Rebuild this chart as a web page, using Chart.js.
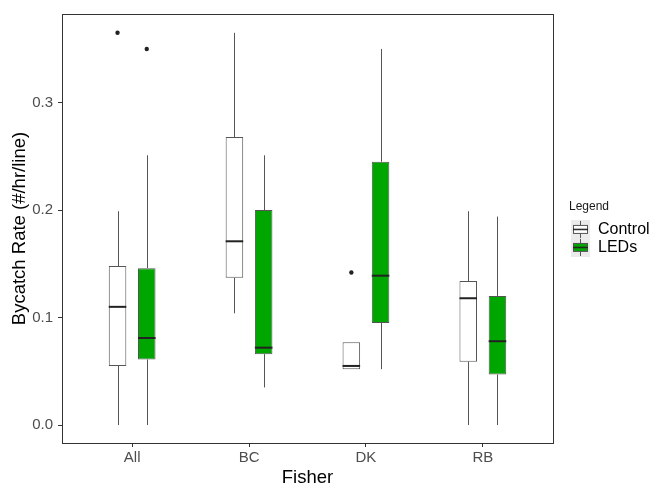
<!DOCTYPE html>
<html>
<head>
<meta charset="utf-8">
<script src="https://cdn.jsdelivr.net/npm/chart.js@4"></script>
<style>
  body { margin: 0; background: #fff; }
  #wrap { width: 651px; height: 487px; }
</style>
</head>
<body>
<div id="wrap"><canvas id="boxChart" width="651" height="487"></canvas></div>
<script>
// ---------- DATA ----------
var categories = ["All", "BC", "DK", "RB"];
var xTicks = [1, 2, 3, 4];
var yTicks = [0, 0.1, 0.2, 0.3];

var controlMin     = [0.000, 0.104, 0.052, 0.000];
var controlQ1      = [0.055, 0.137, 0.052, 0.059];
var controlMedian  = [0.110, 0.171, 0.055, 0.118];
var controlQ3      = [0.148, 0.268, 0.077, 0.134];
var controlMax     = [0.199, 0.365, 0.077, 0.199];
var controlOutliers = [[0.365], [], [0.142], []];

var ledMin     = [0.000, 0.035, 0.052, 0.000];
var ledQ1      = [0.061, 0.066, 0.095, 0.047];
var ledMedian  = [0.081, 0.072, 0.139, 0.078];
var ledQ3      = [0.146, 0.200, 0.245, 0.120];
var ledMax     = [0.251, 0.251, 0.350, 0.194];
var ledOutliers = [[0.350], [], [], []];

var FONT = "'Liberation Sans', Arial, sans-serif";
var GREEN = "#00a600";
var LINE = "#555555";

function boxData(q1, q3) {
  return xTicks.map(function(x, i) { return { x: x, y: [q1[i], q3[i]] }; });
}

// small boxplot glyph for the legend keys
function legendKey(fill) {
  var c = document.createElement("canvas");
  c.width = 19; c.height = 19;
  var g = c.getContext("2d");
  g.fillStyle = "#ebebeb";
  g.fillRect(0, 0, 19, 19);
  g.strokeStyle = LINE;
  g.lineWidth = 1;
  g.beginPath();
  g.moveTo(9.5, 1); g.lineTo(9.5, 5);
  g.moveTo(9.5, 14); g.lineTo(9.5, 18);
  g.stroke();
  g.fillStyle = fill;
  g.fillRect(2, 5, 15, 9);
  g.strokeRect(2.5, 5.5, 14, 8);
  g.strokeStyle = "#222";
  g.lineWidth = 1.5;
  g.beginPath();
  g.moveTo(2, 9.5); g.lineTo(17, 9.5);
  g.stroke();
  return c;
}

var whiskers = [
  { min: controlMin, median: controlMedian, max: controlMax, q1: controlQ1, q3: controlQ3, out: controlOutliers },
  { min: ledMin, median: ledMedian, max: ledMax, q1: ledQ1, q3: ledQ3, out: ledOutliers }
];

// whiskers, medians, outliers and the panel border
var boxPlugin = {
  id: "boxExtras",
  afterDatasetsDraw: function(chart) {
    var ctx = chart.ctx;
    var y = chart.scales.y;
    ctx.save();
    whiskers.forEach(function(w, d) {
      var meta = chart.getDatasetMeta(d);
      meta.data.forEach(function(bar, i) {
        var x = Math.round(bar.x) + 0.5;
        var half = bar.width / 2;
        ctx.strokeStyle = LINE;
        ctx.lineWidth = 1;
        ctx.beginPath();
        if (w.max[i] > w.q3[i]) {
          ctx.moveTo(x, y.getPixelForValue(w.max[i]));
          ctx.lineTo(x, y.getPixelForValue(w.q3[i]));
        }
        if (w.min[i] < w.q1[i]) {
          ctx.moveTo(x, y.getPixelForValue(w.q1[i]));
          ctx.lineTo(x, y.getPixelForValue(w.min[i]));
        }
        ctx.stroke();
        ctx.strokeStyle = "#222";
        ctx.lineWidth = 2;
        ctx.beginPath();
        var my = y.getPixelForValue(w.median[i]);
        ctx.moveTo(bar.x - half, my);
        ctx.lineTo(bar.x + half, my);
        ctx.stroke();
        ctx.fillStyle = "#222";
        w.out[i].forEach(function(v) {
          ctx.beginPath();
          ctx.arc(bar.x, y.getPixelForValue(v), 2.2, 0, Math.PI * 2);
          ctx.fill();
        });
      });
    });
    var a = chart.chartArea;
    ctx.strokeStyle = "#333";
    ctx.lineWidth = 1;
    ctx.strokeRect(Math.round(a.left) + 0.5, Math.round(a.top) + 0.5,
                   Math.round(a.right - a.left), Math.round(a.bottom - a.top));
    ctx.restore();
  }
};

var ctx = document.getElementById("boxChart").getContext("2d");
var boxChart = new Chart(ctx, {
  type: "bar",
  data: {
    datasets: [{
      label: "Control",
      data: boxData(controlQ1, controlQ3),
      backgroundColor: "#ffffff",
      borderColor: LINE,
      borderWidth: 1,
      borderSkipped: false
    }, {
      label: "LEDs",
      data: boxData(ledQ1, ledQ3),
      backgroundColor: GREEN,
      borderColor: LINE,
      borderWidth: 1,
      borderSkipped: false
    }]
  },
  options: {
    responsive: false,
    animation: false,
    devicePixelRatio: 1,
    categoryPercentage: 0.5,
    barPercentage: 0.6,
    layout: { padding: { top: 13, left: 0, right: 0, bottom: 0 } },
    plugins: {
      tooltip: { enabled: false },
      legend: {
        position: "right",
        align: "start",
        maxWidth: 82,
        title: {
          display: true,
          text: "Legend",
          position: "start",
          color: "#1a1a1a",
          font: { family: FONT, size: 12 },
          padding: { top: 188, bottom: 4 }
        },
        labels: {
          usePointStyle: true,
          pointStyleWidth: 19,
          padding: 2,
          color: "#000",
          font: { family: FONT, size: 16 },
          generateLabels: function(chart) {
            return [
              { text: "Control", pointStyle: legendKey("#ffffff"), fontColor: "#000", datasetIndex: 0, lineWidth: 0 },
              { text: "LEDs", pointStyle: legendKey(GREEN), fontColor: "#000", datasetIndex: 1, lineWidth: 0 }
            ];
          }
        }
      }
    },
    scales: {
      x: {
        type: "linear",
        min: 0.4,
        max: 4.6,
        offset: false,
        afterBuildTicks: function(scale) {
          scale.ticks = xTicks.map(function(v) { return { value: v }; });
        },
        afterFit: function(scale) { scale.height = 44; },
        grid: { display: true, drawOnChartArea: false, offset: false, tickLength: 4, color: "#333" },
        border: { display: false },
        ticks: {
          padding: 2,
          color: "#4d4d4d",
          font: { family: FONT, size: 15 },
          callback: function(value) { return categories[value - 1]; }
        },
        title: {
          display: true,
          text: "Fisher",
          color: "#000",
          font: { family: FONT, size: 18.5, lineHeight: 1 },
          padding: { top: 0, bottom: 0 }
        }
      },
      y: {
        min: -0.0167,
        max: 0.3825,
        afterBuildTicks: function(scale) {
          scale.ticks = yTicks.map(function(v) { return { value: v }; });
        },
        afterFit: function(scale) { scale.width = 62; },
        grid: { display: true, drawOnChartArea: false, tickLength: 4, color: "#333" },
        border: { display: false },
        ticks: {
          padding: 5,
          color: "#4d4d4d",
          font: { family: FONT, size: 15 },
          callback: function(value) { return value.toFixed(1); }
        },
        title: {
          display: true,
          text: "Bycatch Rate (#/hr/line)",
          color: "#000",
          font: { family: FONT, size: 18.5, lineHeight: 1 },
          padding: { top: 11, bottom: 0 }
        }
      },
      gap: {
        type: "linear",
        position: "right",
        display: true,
        afterFit: function(scale) { scale.width = 16; },
        grid: { display: false },
        border: { display: false },
        ticks: { display: false }
      }
    }
  },
  plugins: [boxPlugin]
});
</script>
</body>
</html>
